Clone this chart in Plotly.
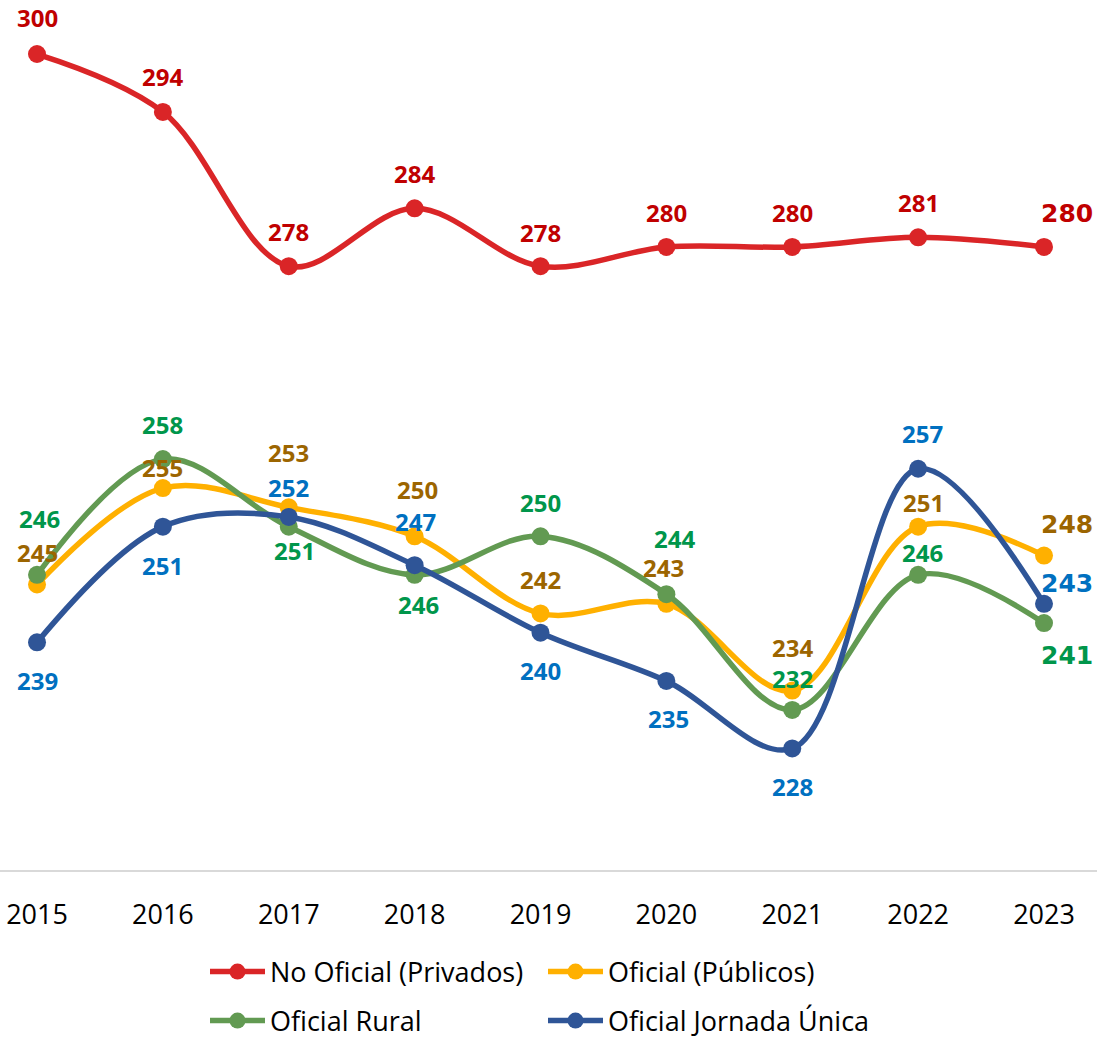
import plotly.graph_objects as go

years = [2015, 2016, 2017, 2018, 2019, 2020, 2021, 2022, 2023]
series_names = ["No Oficial (Privados)", "Oficial (Públicos)", "Oficial Rural", "Oficial Jornada Única"]
privados = [300, 294, 278, 284, 278, 280, 280, 281, 280]
publicos = [245, 255, 253, 250, 242, 243, 234, 251, 248]
rural = [246, 258, 251, 246, 250, 244, 232, 246, 241]
jornada = [239, 251, 252, 247, 240, 235, 228, 257, 243]

# styling
line_colors = ["#DA2527", "#FFB000", "#629A52", "#2F5597"]
label_colors = ["#C00000", "#9C6500", "#00964B", "#0070C0"]
# label offsets in px (dx right, dy down) per point
offsets = [
    [(0, -37), (0, -35), (0, -35), (0, -35), (0, -34), (0, -34), (0, -34), (0, -35), (23, -33)],
    [(0, -32), (0, -21), (0, -55), (3, -47), (0, -34), (-3, -36), (0, -43), (5, -24), (23, -31)],
    [(2, -56), (0, -35), (6, 24), (4, 30), (0, -34), (8, -56), (0, -31), (4, -22), (23, 32)],
    [(0, 38), (0, 39), (0, -29), (1, -44), (0, 38), (2, 38), (0, 38), (4, -35), (23, -20)],
]

all_series = [privados, publicos, rural, jornada]

fig = go.Figure()
legends = ["legend", "legend2", "legend3", "legend4"]
for i, (name, vals) in enumerate(zip(series_names, all_series)):
    fig.add_trace(go.Scatter(
        x=years, y=vals, name=name, mode="lines+markers",
        line=dict(color=line_colors[i], width=5.5, shape="spline", smoothing=1.0),
        marker=dict(color=line_colors[i], size=18),
        legend=legends[i], hoverinfo="skip",
    ))

annotations = []
for i, vals in enumerate(all_series):
    for j, (yr, v) in enumerate(zip(years, vals)):
        dx, dy = offsets[i][j]
        last = (j == len(years) - 1)
        annotations.append(dict(
            x=yr, y=v, xref="x", yref="y", text=str(v), showarrow=False,
            xshift=dx, yshift=-dy,
            font=dict(family="DejaVu Sans" if last else "Open Sans",
                      size=25 if last else 24, color=label_colors[i], weight="bold"),
        ))

W, H = 1097, 1042
plot_h = 870
leg_pos = [(205, 972), (543, 972), (205, 1021), (543, 1021)]
leg_layout = {}
for k, (px, py) in zip(legends, leg_pos):
    leg_layout[k] = dict(
        xref="container", yref="container",
        x=px / W, y=1 - py / H, xanchor="left", yanchor="middle",
        orientation="h", font=dict(family="Open Sans", size=27, color="#000000"),
        itemwidth=55, bgcolor="rgba(0,0,0,0)", borderwidth=0,
    )

fig.update_layout(
    width=W, height=H,
    margin=dict(l=0, r=0, t=0, b=H - plot_h, pad=0),
    paper_bgcolor="white", plot_bgcolor="white",
    showlegend=True,
    annotations=annotations,
    xaxis=dict(
        range=[2014.706, 2023.421], tickvals=years, ticktext=[str(y) for y in years],
        showgrid=False, zeroline=False, showline=True, linecolor="#D9D9D9", linewidth=2,
        ticks="", ticklabelstandoff=20,
        tickfont=dict(family="Open Sans", size=27, color="#000000"),
    ),
    yaxis=dict(range=[215.4, 305.6], visible=False, showgrid=False, zeroline=False),
    **leg_layout,
)

fig.write_html("out.html", config={"displayModeBar": False},
               post_script="document.body.style.margin='0';")
